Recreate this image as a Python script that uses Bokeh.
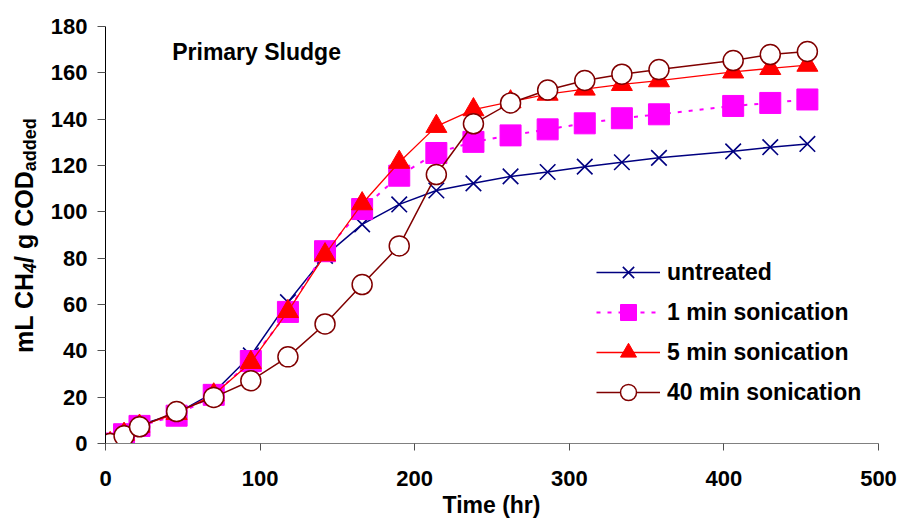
from bokeh.plotting import figure
from bokeh.models import Label, Legend, Range1d, FixedTicker, Div
from bokeh.layouts import row, column
from bokeh.embed import file_html
from bokeh.resources import INLINE

# ---- data ----
time_hr = [3, 12, 22, 46, 70, 94, 118, 142, 166, 190, 214, 238, 262, 286, 310, 334, 358, 406, 430, 454]
untreated = [0, 4, 8, 13, 22, 38, 61, 81, 94.6, 103.2, 109.2, 112.3, 115.3, 117.2, 119.5, 121.4, 123.3, 126.1, 127.9, 129.3]
min1 = [0, 4, 7.6, 12, 21, 35.6, 56.8, 83, 101.2, 115.6, 125.4, 130.2, 133, 135.6, 138.2, 140.4, 142.1, 145.7, 147, 148.5]
min5 = [0, 4, 7.5, 13, 21, 35, 57, 81.5, 103.5, 121.4, 136.9, 144.1, 147.5, 150.8, 153, 155, 156.6, 160.4, 161.9, 163.3]
min40 = [0, 3.3, 7.2, 13.8, 19.9, 27.1, 37.4, 51.6, 68.6, 85.3, 116.1, 138, 147, 152.6, 156.7, 159.4, 161.4, 165.3, 167.9, 169.2]

series_names = ["untreated", "1 min sonication", "5 min sonication", "40 min sonication"]
x_ticks = [0, 100, 200, 300, 400, 500]
y_ticks = [0, 20, 40, 60, 80, 100, 120, 140, 160, 180]
x_title = "Time (hr)"
y_title_parts = ["mL CH", "4", "/ g COD", "added"]

FONT = "Liberation Sans"
W, H = 899, 518
LAB_W = 45          # width of the strip carrying the y title
BOT_H = 21          # height of the strip carrying the x title
TOP_H = H - BOT_H   # height of the main row

# ---- main figure ----
p = figure(width=W - LAB_W, height=TOP_H, output_backend="svg", toolbar_location=None,
           min_border_left=105 - LAB_W, min_border_right=21, min_border_top=26,
           min_border_bottom=TOP_H - 443,
           x_range=Range1d(0, 500), y_range=Range1d(0, 180))
p.outline_line_color = None
p.xgrid.grid_line_color = None
p.ygrid.grid_line_color = None

for ax in (p.xaxis[0], p.yaxis[0]):
    ax.minor_tick_line_color = None
    ax.major_tick_in = 0
    ax.major_label_text_font = FONT
    ax.major_label_text_font_style = "bold"
    ax.major_label_text_font_size = "22px"
    ax.major_label_text_color = "black"
    ax.major_tick_line_color = "#505050"

p.xaxis[0].ticker = FixedTicker(ticks=x_ticks)
p.yaxis[0].ticker = FixedTicker(ticks=y_ticks)
p.xaxis[0].axis_line_color = "#808080"
p.yaxis[0].axis_line_color = "black"
p.xaxis[0].major_tick_out = 7
p.yaxis[0].major_tick_out = 8
p.xaxis[0].major_label_standoff = 20
p.yaxis[0].major_label_standoff = 10

# ---- series ----
l1 = p.line(time_hr, untreated, line_color="#000080", line_width=1.5)
s1 = p.scatter(time_hr, untreated, marker="x", size=22, line_color="#000080", line_width=1.6)

l2 = p.line(time_hr, min1, line_color="#FF00FF", line_width=2, line_dash="4 7")
s2 = p.scatter(time_hr, min1, marker="square", size=21, fill_color="#FF00FF", line_color="#FF00FF")

l3 = p.line(time_hr, min5, line_color="#FF0000", line_width=1.3)
s3 = p.scatter(time_hr, min5, marker="triangle", size=21, fill_color="#FF0000", line_color="#FF0000")

l4 = p.line(time_hr, min40, line_color="#800000", line_width=1.5)
s4 = p.scatter(time_hr, min40, marker="circle", size=20, fill_color="white", line_color="#800000", line_width=1.5)

legend = Legend(items=[(series_names[0], [l1, s1]), (series_names[1], [l2, s2]),
                       (series_names[2], [l3, s3]), (series_names[3], [l4, s4])],
                location=(491, 31))
legend.glyph_width = 64
legend.glyph_height = 40
legend.label_height = 40
legend.spacing = 0
legend.padding = 0
legend.margin = 0
legend.label_standoff = 7
legend.border_line_color = None
legend.background_fill_alpha = 0
legend.label_text_font = FONT
legend.label_text_font_style = "bold"
legend.label_text_font_size = "23px"
legend.label_text_color = "black"
legend.label_text_baseline = "middle"
p.add_layout(legend)

p.add_layout(Label(x=66.7, y=391.3, x_units="screen", y_units="screen", text="Primary Sludge",
                   text_font=FONT, text_font_style="bold", text_font_size="23px",
                   text_color="black", text_align="left", text_baseline="alphabetic"))

# ---- left strip: rotated y-axis title with subscripts (HTML text) ----
sub_style = "font-size:18px;vertical-align:-3px;line-height:0;"
y_html = (
    f'<div style="position:relative;width:{LAB_W}px;height:{TOP_H}px;">'
    '<div style="position:absolute;left:12px;top:353px;transform:rotate(-90deg);'
    "transform-origin:0 0;white-space:nowrap;font-family:'Liberation Sans',Arial,sans-serif;"
    'font-weight:bold;font-size:25px;line-height:25px;color:black;">'
    f'{y_title_parts[0]}<span style="{sub_style}font-style:italic;">{y_title_parts[1]}</span>'
    f'{y_title_parts[2]}<span style="{sub_style}">{y_title_parts[3]}</span>'
    '</div></div>'
)
q = Div(text=y_html, width=LAB_W, height=TOP_H, margin=0)

# ---- bottom strip: x-axis title (HTML text) ----
x_html = (
    f'<div style="position:relative;width:{W}px;height:{BOT_H}px;">'
    '<div style="position:absolute;left:391.5px;width:200px;top:0px;text-align:center;'
    "white-space:nowrap;font-family:'Liberation Sans',Arial,sans-serif;"
    f'font-weight:bold;font-size:23px;line-height:16px;color:black;">{x_title}</div></div>'
)
r = Div(text=x_html, width=W, height=BOT_H, margin=0)

layout = column(row(q, p), r)
open("out.html", "w").write(file_html(layout, INLINE))
